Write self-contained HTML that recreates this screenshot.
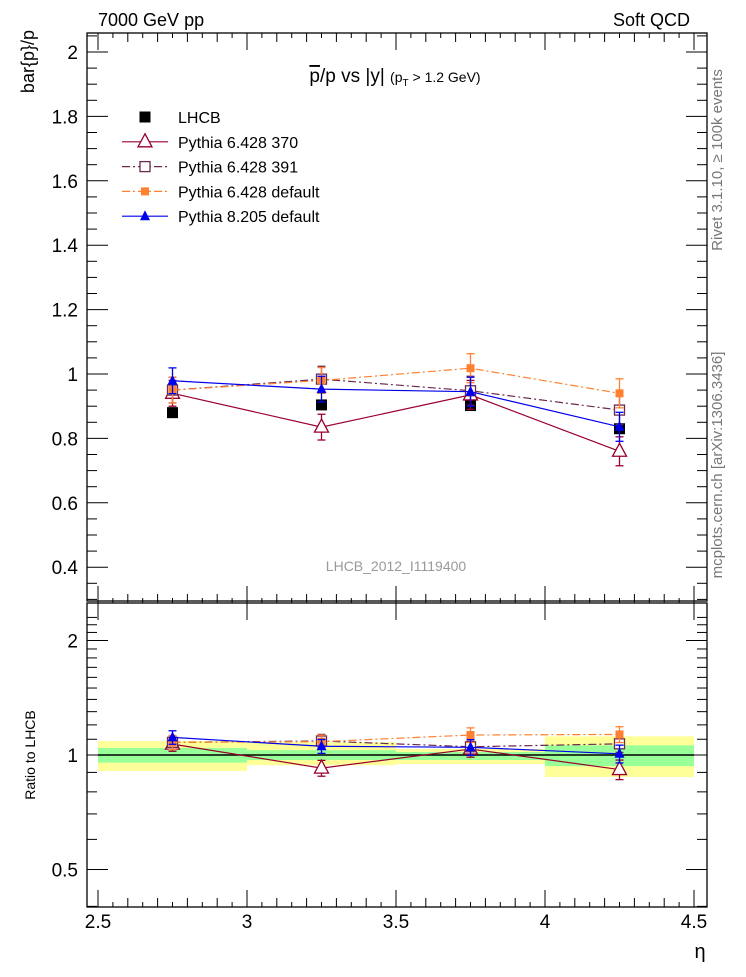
<!DOCTYPE html>
<html><head><meta charset="utf-8"><style>
body{margin:0;background:#fff;width:746px;height:972px;overflow:hidden}
svg{font-family:"Liberation Sans",Arial,sans-serif}
</style></head><body>
<svg id="c" width="746" height="972" viewBox="0 0 746 972">
<text x="98" y="26" font-size="18">7000 GeV pp</text>
<text x="690" y="26" font-size="18" text-anchor="end">Soft QCD</text>
<text x="395" y="82" font-size="19" text-anchor="middle"><tspan text-decoration="overline">p</tspan>/p vs |y| <tspan font-size="14">(p<tspan font-size="10" dy="4">T</tspan><tspan dy="-4"> &gt; 1.2 GeV)</tspan></tspan></text>
<text transform="translate(34,30) rotate(-90)" font-size="18" text-anchor="end">bar{p}/p</text>
<text transform="translate(35,755) rotate(-90)" font-size="14" text-anchor="middle">Ratio to LHCB</text>
<text transform="translate(722,160) rotate(-90)" font-size="15" fill="#777" text-anchor="middle">Rivet 3.1.10, ≥ 100k events</text>
<text transform="translate(722,465) rotate(-90)" font-size="15" fill="#777" text-anchor="middle">mcplots.cern.ch [arXiv:1306.3436]</text>
<text x="396" y="571" font-size="14" fill="#999" text-anchor="middle">LHCB_2012_I1119400</text>
<text x="700" y="958" font-size="20" text-anchor="middle">η</text>
<g id="g"></g>
</svg>
<script>
const xEdges=[2.5,3.0,3.5,4.0,4.5];
const xCenters=[2.75,3.25,3.75,4.25];
const lhcb=[0.88,0.904,0.902,0.83];
const p370=[0.94,0.835,0.935,0.76];
const p391=[0.95,0.984,0.948,0.888];
const p6def=[0.95,0.98,1.018,0.94];
const p8def=[0.979,0.953,0.945,0.836];
const mcErr=[0.04,0.04,0.045,0.045];
const bandYLo=[0.908,0.94,0.947,0.875];
const bandYHi=[1.088,1.08,1.037,1.12];
const bandGLo=[0.955,0.97,0.97,0.935];
const bandGHi=[1.043,1.03,1.018,1.06];
const mainTicks=[0.4,0.6,0.8,1,1.2,1.4,1.6,1.8,2];
const mainTickLabels=["0.4","0.6","0.8","1","1.2","1.4","1.6","1.8","2"];
const ratioTicks=[0.5,1,2];
const ratioTickLabels=["0.5","1","2"];
const xTickLabels=["2.5","3","3.5","4","4.5"];

const NS="http://www.w3.org/2000/svg";
const G=document.getElementById('g');
const L=87,R=707,T=33,MB=601,RT=603,RB=907;
const X=v=>98+(v-2.5)*298;
const Y=v=>374-(v-1)*322;
const YR=r=>755-Math.log2(r)*114.5;
function mk(t,a,p){const e=document.createElementNS(NS,t);for(const k in a)e.setAttribute(k,a[k]);(p||G).appendChild(e);return e;}
for(let i=0;i<4;i++){
 let r=mk('rect',{x:X(xEdges[i]),y:YR(bandYHi[i]),width:X(xEdges[i+1])-X(xEdges[i]),height:YR(bandYLo[i])-YR(bandYHi[i]),fill:'#ffff99'});
 
 r=mk('rect',{x:X(xEdges[i]),y:YR(bandGHi[i]),width:X(xEdges[i+1])-X(xEdges[i]),height:YR(bandGLo[i])-YR(bandGHi[i]),fill:'#99ff99'});
 
}
let ln=mk('line',{x1:X(2.5),x2:X(4.5),y1:YR(1),y2:YR(1),stroke:'#000','stroke-width':1.5});

let f=mk('rect',{x:L,y:T,width:R-L,height:MB-T,fill:'none',stroke:'#000','stroke-width':1.3});

f=mk('rect',{x:L,y:RT,width:R-L,height:RB-RT,fill:'none',stroke:'#000','stroke-width':1.3});

for(let k=0;k<=40;k++){const v=2.5+k*0.05;const x=X(v);const maj=k%10==0,mid=k%2==0;
 const len=maj?17:(mid?9:5);
 mk('line',{x1:x,x2:x,y1:T,y2:T+len,stroke:'#000'});
 mk('line',{x1:x,x2:x,y1:RT,y2:RT-len,stroke:'#000'});
 mk('line',{x1:x,x2:x,y1:RB,y2:RB-len,stroke:'#000'});
 mk('line',{x1:x,x2:x,y1:RT,y2:RT+(maj?17:0),stroke:'#000'});
}
xTickLabels.forEach((s,i)=>{const t=mk('text',{x:X(xEdges[i]),y:928,'font-size':19,'text-anchor':'middle'});t.textContent=s;
 });
for(let k=0;k<=40;k++){const v=0.3+k*0.05;const y=Y(v);if(y<T||y>MB)continue;const maj=Math.abs((v*10)%2)<0.01||Math.abs((v*10)%2-2)<0.01;
 const len=maj?21:10;mk('line',{x1:L,x2:L+len,y1:y,y2:y,stroke:'#000'});mk('line',{x1:R,x2:R-len,y1:y,y2:y,stroke:'#000'});}
mainTicks.forEach((v,i)=>{const t=mk('text',{x:78,y:Y(v)+7,'font-size':19,'text-anchor':'end'});t.textContent=mainTickLabels[i];
 });
for(let k=4;k<=23;k++){const v=k/10;if(v==0.5||v==1||v==2)continue;const y=YR(v);if(y<RT||y>RB)continue;
 mk('line',{x1:L,x2:L+10,y1:y,y2:y,stroke:'#000'});mk('line',{x1:R,x2:R-10,y1:y,y2:y,stroke:'#000'});}
ratioTicks.forEach((v,i)=>{const y=YR(v);mk('line',{x1:L,x2:L+21,y1:y,y2:y,stroke:'#000'});mk('line',{x1:R,x2:R-21,y1:y,y2:y,stroke:'#000'});
 const t=mk('text',{x:78,y:y+7,'font-size':19,'text-anchor':'end'});t.textContent=ratioTickLabels[i];
 });

function marker(kind,col,x,y,g){
 if(kind=='sq')mk('rect',{x:x-5.5,y:y-5.5,width:11,height:11,fill:col},g);
 else if(kind=='osq')mk('rect',{x:x-5,y:y-5,width:10,height:10,fill:'#fff',stroke:col,'stroke-width':1.3},g);
 else if(kind=='ssq')mk('rect',{x:x-4,y:y-4,width:8,height:8,fill:col},g);
 else if(kind=='otri')mk('polygon',{points:`${x},${y-8} ${x-7},${y+5} ${x+7},${y+5}`,fill:'#fff',stroke:col,'stroke-width':1.3},g);
 else mk('polygon',{points:`${x},${y-6} ${x-5},${y+4} ${x+5},${y+4}`,fill:col},g);
}
const series=[
 {n:'pythia-6428-370',v:p370,c:'#99002e',m:'otri',d:''},
 {n:'pythia-6428-391',v:p391,c:'#6b2a4f',m:'osq',d:'8,3,2,3'},
 {n:'pythia-6428-default',v:p6def,c:'#ff8030',m:'ssq',d:'8,3,2,3'},
 {n:'pythia-8205-default',v:p8def,c:'#0000ee',m:'tri',d:''}];
function drawSeries(s,panel){
 const g=mk('g',{});
 const yf=panel=='main'?(i=>Y(s.v[i])):(i=>YR(s.v[i]/lhcb[i]));
 const ef=panel=='main'?((i,sg)=>Y(s.v[i]+sg*mcErr[i])):((i,sg)=>YR((s.v[i]+sg*mcErr[i])/lhcb[i]));
 mk('polyline',{points:xCenters.map((c,i)=>X(c)+','+yf(i)).join(' '),fill:'none',stroke:s.c,'stroke-width':1.2,'stroke-dasharray':s.d},g);
 xCenters.forEach((c,i)=>{const x=X(c);const y1=ef(i,1),y2=ef(i,-1);
  mk('line',{x1:x,x2:x,y1:y1,y2:y2,stroke:s.c,'stroke-width':1.3},g);
  mk('line',{x1:x-4,x2:x+4,y1:y1,y2:y1,stroke:s.c,'stroke-width':1.3},g);
  mk('line',{x1:x-4,x2:x+4,y1:y2,y2:y2,stroke:s.c,'stroke-width':1.3},g);
  marker(s.m,s.c,x,yf(i),g);});
}
const dg=mk('g',{});
xCenters.forEach((c,i)=>marker('sq','#000',X(c),Y(lhcb[i]),dg));
series.forEach(s=>{drawSeries(s,'main');drawSeries(s,'ratio');});
const leg=[['LHCB','sq','#000',''],['Pythia 6.428 370','otri','#99002e',''],['Pythia 6.428 391','osq','#6b2a4f','8,3,2,3'],['Pythia 6.428 default','ssq','#ff8030','8,3,2,3'],['Pythia 8.205 default','tri','#0000ee','']];
leg.forEach((e,i)=>{const y=117+i*24.8;const g=mk('g',{});
 if(i>0)mk('line',{x1:122,x2:168,y1:y,y2:y,stroke:e[2],'stroke-width':1.2,'stroke-dasharray':e[3]},g);
 marker(e[1],e[2],145,y,g);
 const t=mk('text',{x:178,y:y+6,'font-size':16},g);t.textContent=e[0];});
</script>
</body></html>
